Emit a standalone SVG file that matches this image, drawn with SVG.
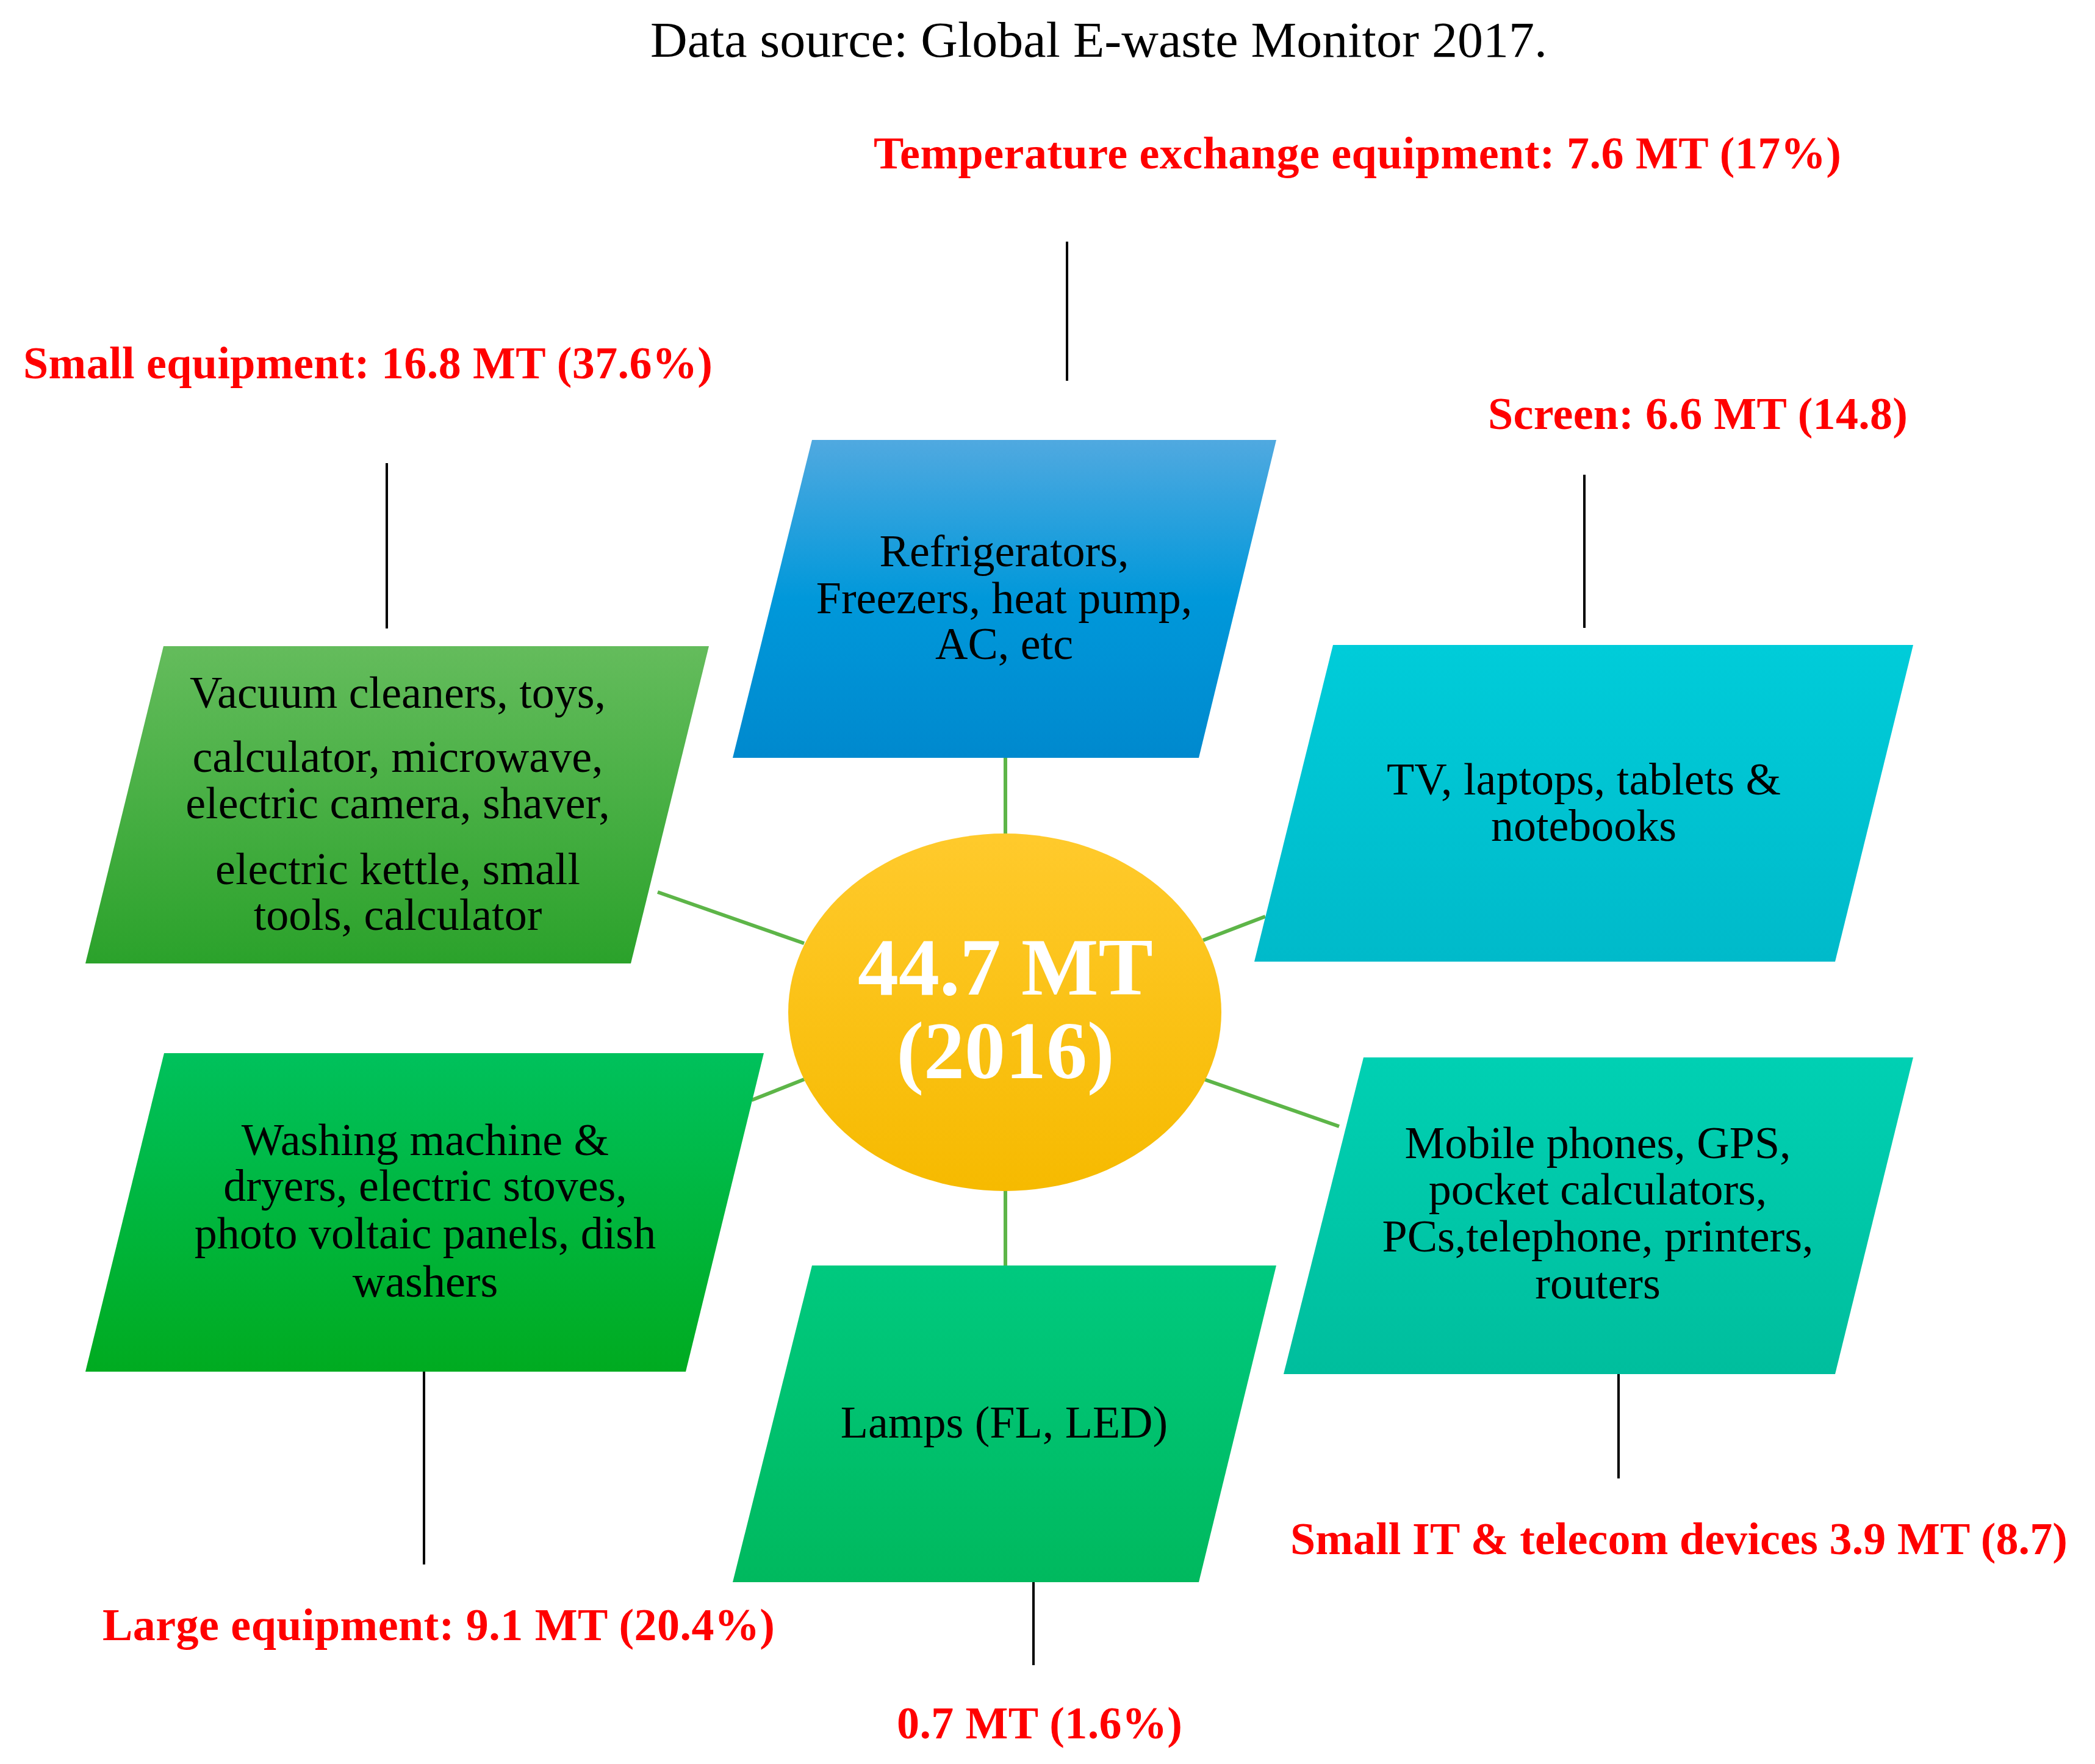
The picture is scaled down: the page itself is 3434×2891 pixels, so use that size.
<svg xmlns="http://www.w3.org/2000/svg" width="3434" height="2891" viewBox="0 0 3434 2891">
<style>
text{font-family:"Liberation Serif","Times New Roman",serif;}
.t{font-size:74px;fill:#000;text-anchor:middle;}
.lab{font-size:74px;font-weight:bold;fill:#FF0000;}
.conn{stroke:#5DB548;stroke-width:6;fill:none;}
.blk{stroke:#000;stroke-width:4;fill:none;}
.big{font-size:134px;font-weight:bold;fill:#fff;text-anchor:middle;}
</style>
<defs>
<linearGradient id="gUL" x1="0" y1="0" x2="0" y2="1"><stop offset="0" stop-color="#64BC5C"/><stop offset="1" stop-color="#2BA22B"/></linearGradient>
<linearGradient id="gBlue" x1="0" y1="0" x2="0" y2="1"><stop offset="0" stop-color="#50A9E0"/><stop offset="0.5" stop-color="#0098DA"/><stop offset="1" stop-color="#0089CE"/></linearGradient>
<linearGradient id="gCyan" x1="0" y1="0" x2="0" y2="1"><stop offset="0" stop-color="#00CCD9"/><stop offset="1" stop-color="#00BACA"/></linearGradient>
<linearGradient id="gLL" x1="0" y1="0" x2="0" y2="1"><stop offset="0" stop-color="#00C15C"/><stop offset="1" stop-color="#00AB20"/></linearGradient>
<linearGradient id="gLamp" x1="0" y1="0" x2="0" y2="1"><stop offset="0" stop-color="#00C97F"/><stop offset="1" stop-color="#00B95E"/></linearGradient>
<linearGradient id="gTeal" x1="0" y1="0" x2="0" y2="1"><stop offset="0" stop-color="#00D0B3"/><stop offset="1" stop-color="#00BE9D"/></linearGradient>
<linearGradient id="gEll" x1="0" y1="0" x2="0" y2="1"><stop offset="0" stop-color="#FFCA2C"/><stop offset="1" stop-color="#F6BA00"/></linearGradient>
</defs>
<rect width="3434" height="2891" fill="#fff"/>

<text id="title" x="1801" y="93" style="font-size:82px;text-anchor:middle" textLength="1470" lengthAdjust="spacingAndGlyphs">Data source: Global E-waste Monitor 2017.</text>

<g id="connectors">
<line class="conn" x1="1648" y1="1242" x2="1648" y2="1370"/>
<line class="conn" x1="1648" y1="1948" x2="1648" y2="2074"/>
<line class="conn" x1="1078" y1="1462" x2="1318" y2="1546"/>
<line class="conn" x1="1232" y1="1803" x2="1318" y2="1769"/>
<line class="conn" x1="1972" y1="1541" x2="2074" y2="1502"/>
<line class="conn" x1="1974" y1="1769" x2="2195" y2="1846"/>
<line class="blk" x1="1749" y1="396" x2="1749" y2="624"/>
<line class="blk" x1="634" y1="759" x2="634" y2="1030"/>
<line class="blk" x1="2597" y1="778" x2="2597" y2="1029"/>
<line class="blk" x1="695" y1="2248" x2="695" y2="2564"/>
<line class="blk" x1="1694" y1="2593" x2="1694" y2="2729"/>
<line class="blk" x1="2653" y1="2252" x2="2653" y2="2423"/>
</g>

<g id="center">
<ellipse cx="1647" cy="1659" rx="355" ry="293" fill="url(#gEll)"/>
<text class="big" x="1648" y="1630">44.7 MT</text>
<text class="big" x="1648" y="1767">(2016)</text>
</g>

<g id="temperature">
<polygon points="1331,721 2092,721 1965,1242 1201,1242" fill="url(#gBlue)"/>
<text class="t" x="1646" y="928">Refrigerators,</text>
<text class="t" x="1646" y="1005">Freezers, heat pump,</text>
<text class="t" x="1646" y="1080">AC, etc</text>
<text class="lab" x="1432" y="276" textLength="1586" lengthAdjust="spacing">Temperature exchange equipment: 7.6 MT (17%)</text>
</g>

<g id="small-equipment">
<polygon points="268,1059 1162,1059 1034,1579 140,1579" fill="url(#gUL)"/>
<text class="t" x="652" y="1160">Vacuum cleaners, toys,</text>
<text class="t" x="652" y="1265">calculator, microwave,</text>
<text class="t" x="652" y="1341">electric camera, shaver,</text>
<text class="t" x="652" y="1449">electric kettle, small</text>
<text class="t" x="652" y="1524">tools, calculator</text>
<text class="lab" x="38" y="620" textLength="1130" lengthAdjust="spacing">Small equipment: 16.8 MT (37.6%)</text>
</g>

<g id="screen">
<polygon points="2185,1057 3136,1057 3008,1576 2056,1576" fill="url(#gCyan)"/>
<text class="t" x="2596" y="1302">TV, laptops, tablets &amp;</text>
<text class="t" x="2596" y="1378">notebooks</text>
<text class="lab" x="2439" y="703" textLength="688" lengthAdjust="spacing">Screen: 6.6 MT (14.8)</text>
</g>

<g id="large-equipment">
<polygon points="269,1726 1252,1726 1124,2248 140,2248" fill="url(#gLL)"/>
<text class="t" x="697" y="1893">Washing machine &amp;</text>
<text class="t" x="697" y="1968">dryers, electric stoves,</text>
<text class="t" x="697" y="2046">photo voltaic panels, dish</text>
<text class="t" x="697" y="2125">washers</text>
<text class="lab" x="168" y="2688" textLength="1102" lengthAdjust="spacing">Large equipment: 9.1 MT (20.4%)</text>
</g>

<g id="lamps">
<polygon points="1331,2074 2092,2074 1965,2593 1201,2593" fill="url(#gLamp)"/>
<text class="t" x="1646" y="2356">Lamps (FL, LED)</text>
<text class="lab" x="1470" y="2849" textLength="468" lengthAdjust="spacing">0.7 MT (1.6%)</text>
</g>

<g id="small-it">
<polygon points="2235,1733 3136,1733 3008,2252 2104,2252" fill="url(#gTeal)"/>
<text class="t" x="2619" y="1898">Mobile phones, GPS,</text>
<text class="t" x="2619" y="1974">pocket calculators,</text>
<text class="t" x="2619" y="2051">PCs,telephone, printers,</text>
<text class="t" x="2619" y="2128">routers</text>
<text class="lab" x="2115" y="2547" textLength="1274" lengthAdjust="spacing">Small IT &amp; telecom devices 3.9 MT (8.7)</text>
</g>
</svg>
